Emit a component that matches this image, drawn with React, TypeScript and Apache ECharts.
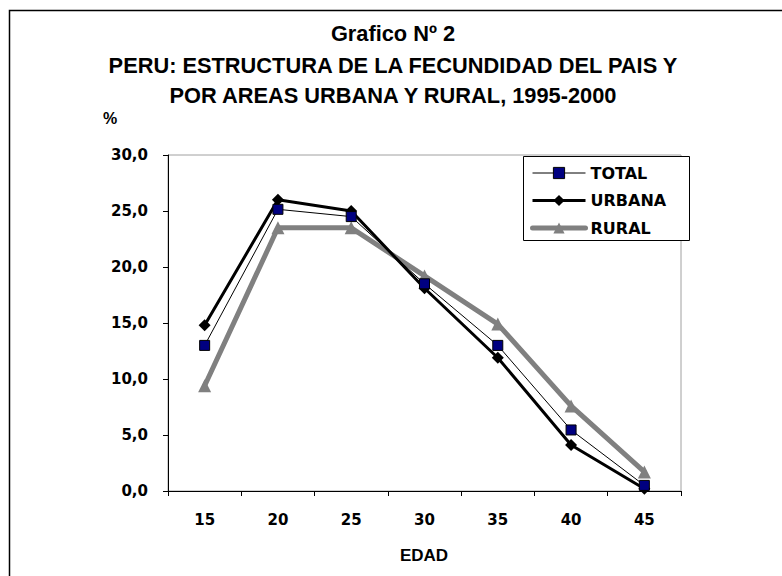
import React, { useEffect, useRef } from "react";
import * as echarts from "echarts";

const ages = ["15", "20", "25", "30", "35", "40", "45"];
const total = [13.0, 25.15, 24.5, 18.5, 13.0, 5.45, 0.5];
const urbana = [14.8, 26.0, 25.0, 18.1, 11.9, 4.1, 0.2];
const rural = [9.4, 23.5, 23.5, 19.2, 14.9, 7.6, 1.7];
const titleLines = [
  "Grafico Nº 2",
  "PERU: ESTRUCTURA DE LA FECUNDIDAD DEL PAIS Y",
  "POR AREAS URBANA Y RURAL, 1995-2000",
];
const seriesNames = ["TOTAL", "URBANA", "RURAL"];

export default function App() {
  const ref = useRef<HTMLDivElement>(null);
  useEffect(() => {
    if (!ref.current) return;
    const chart = echarts.init(ref.current, null, { renderer: "svg" });
    const titleFont = "'Liberation Sans', Arial, sans-serif";
    const labelFont = "'DejaVu Sans', Verdana, sans-serif";
    const styles = [
      { line: { color: "#000", width: 1 }, item: { color: "#000080", borderColor: "#000", borderWidth: 1 } },
      { line: { color: "#000", width: 3 }, item: { color: "#000" } },
      { line: { color: "#808080", width: 5, cap: "round" }, item: { color: "#808080" } },
    ];
    chart.setOption({
      animation: false,
      backgroundColor: "#ffffff",
      grid: {
        left: 168,
        right: 101,
        top: 155,
        bottom: 85,
        show: true,
        borderColor: "#a0a0a0",
        borderWidth: 1,
      },
      xAxis: {
        type: "category",
        data: ages,
        boundaryGap: true,
        axisLine: { lineStyle: { color: "#000", width: 1 } },
        axisTick: { show: true, length: 5, lineStyle: { color: "#000" } },
        axisLabel: {
          margin: 21,
          color: "#000",
          fontFamily: labelFont,
          fontWeight: "bold",
          fontSize: 15,
        },
        splitLine: { show: false },
      },
      yAxis: {
        type: "value",
        min: 0,
        max: 30,
        interval: 5,
        axisLine: { show: true, lineStyle: { color: "#000", width: 1 } },
        axisTick: { show: true, length: 5, lineStyle: { color: "#000" } },
        axisLabel: {
          margin: 20,
          color: "#000",
          fontFamily: labelFont,
          fontWeight: "bold",
          fontSize: 15,
          formatter: (v: number) => v.toFixed(1).replace(".", ","),
        },
        splitLine: { show: false },
      },
      legend: {
        orient: "vertical",
        left: 523,
        top: 156,
        padding: [9, 7, 6, 7],
        itemWidth: 53,
        itemHeight: 14,
        itemGap: 11.5,
        data: seriesNames.map((n, i) => ({
          name: n,
          lineStyle: styles[i].line,
          itemStyle: styles[i].item,
        })),
        textStyle: {
          color: "#000",
          fontFamily: labelFont,
          fontWeight: "bold",
          fontSize: 16,
        },
        z: 5,
      },
      graphic: [
        {
          type: "rect",
          z: 1,
          shape: { x: 523.5, y: 156.5, width: 166, height: 84 },
          style: { fill: "#fff", stroke: "#000", lineWidth: 1 },
        },
        {
          type: "rect",
          z: 0,
          shape: { x: 9.5, y: 10.5, width: 800, height: 600 },
          style: { fill: "none", stroke: "#000", lineWidth: 1.5 },
        },
        ...titleLines.map((t, i) => ({
          type: "text",
          x: 393,
          y: [33, 65, 95][i],
          style: {
            text: t,
            align: "center",
            verticalAlign: "middle",
            fontFamily: titleFont,
            fontWeight: "bold",
            fontSize: 21.8,
            fill: "#000",
          },
        })),
        {
          type: "text",
          x: 103,
          y: 118,
          style: {
            text: "%",
            align: "left",
            verticalAlign: "middle",
            fontFamily: titleFont,
            fontWeight: "bold",
            fontSize: 16,
            fill: "#000",
          },
        },
        {
          type: "text",
          x: 424,
          y: 555,
          style: {
            text: "EDAD",
            align: "center",
            verticalAlign: "middle",
            fontFamily: titleFont,
            fontWeight: "bold",
            fontSize: 17,
            fill: "#000",
          },
        },
      ],
      series: [
        {
          name: "TOTAL",
          type: "line",
          data: total,
          symbol: "rect",
          symbolSize: 10,
          lineStyle: styles[0].line,
          itemStyle: styles[0].item,
          z: 4,
        },
        {
          name: "URBANA",
          type: "line",
          data: urbana,
          symbol: "diamond",
          symbolSize: 12,
          lineStyle: styles[1].line,
          itemStyle: styles[1].item,
          z: 3,
        },
        {
          name: "RURAL",
          type: "line",
          data: rural,
          symbol: "triangle",
          symbolSize: 13,
          lineStyle: styles[2].line,
          itemStyle: styles[2].item,
          z: 2,
        },
      ],
    });
    return () => chart.dispose();
  }, []);
  return (
    <div
      ref={ref}
      style={{ position: "fixed", left: 0, top: 0, width: 782, height: 576 }}
    />
  );
}
